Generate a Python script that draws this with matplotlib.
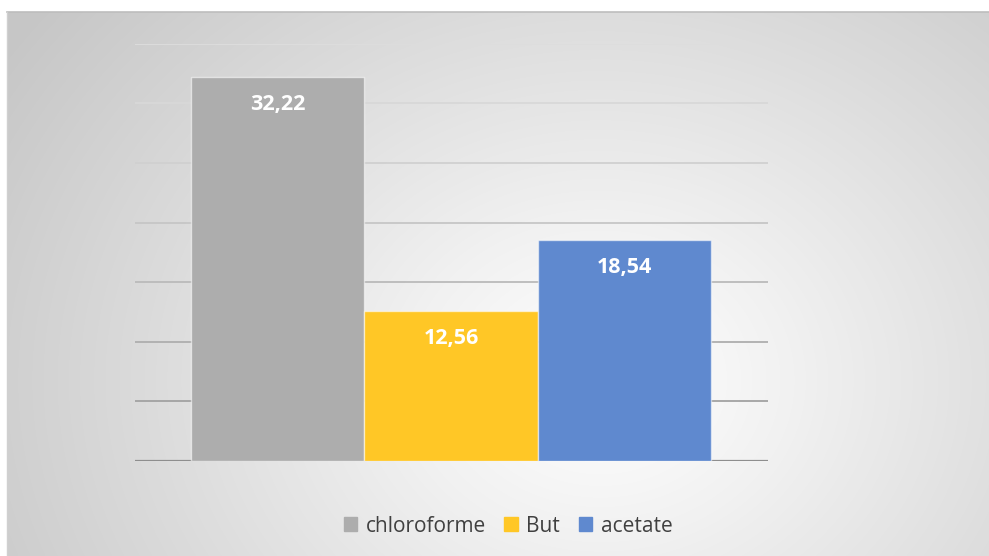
import numpy as np
import matplotlib.pyplot as plt
from matplotlib.colors import LinearSegmentedColormap

series = ["chloroforme", "But", "acetate"]
values = [32.22, 12.56, 18.54]
labels = ["32,22", "12,56", "18,54"]
colors = ["#ADADAD", "#FFC726", "#5F89CF"]
grid_levels = [0, 5, 10, 15, 20, 25, 30, 35]

plt.rcParams['font.family'] = ['Open Sans', 'DejaVu Sans']

fig = plt.figure(figsize=(9.89, 5.56), dpi=100)
fig.patch.set_facecolor("white")

# radial gradient background of the chart area
bg = fig.add_axes([7 / 989, 0, 982 / 989, 544 / 556], zorder=0)
h, w = 544, 982
yy, xx = np.mgrid[0:h, 0:w]
cx, cy = 600 - 7, 380 - 12
d = np.sqrt(((xx - cx) / 720.0) ** 2 + ((yy - cy) / 600.0) ** 2)
d = np.clip(d, 0, 1)
bg_cmap = LinearSegmentedColormap.from_list(
    "bg", [(0, "#FFFFFF"), (0.25, "#F2F2F2"), (0.6, "#DDDDDD"), (1, "#C6C6C6")])
bg.imshow(d, cmap=bg_cmap, vmin=0, vmax=1, aspect="auto", interpolation="bilinear")
bg.set_axis_off()
# thin border on top / left
fig.add_artist(plt.Line2D([7 / 989, 1], [544 / 556, 544 / 556], color="#BDBDBD", lw=1.2))
fig.add_artist(plt.Line2D([7 / 989, 7 / 989], [0, 544 / 556], color="#D0D0D0", lw=1.0))

ax = fig.add_axes([135 / 989, 1 - 461 / 556, 633 / 989, (461 - 43.7) / 556], zorder=1)
ax.patch.set_alpha(0)

# gridlines get darker toward the bottom
grid_cols = ["#8E8E8E", "#A2A2A2", "#AEAEAE", "#BABABA", "#C6C6C6", "#D0D0D0", "#D8D8D8", "#DDDDDD"]
for lvl, gc in zip(grid_levels, grid_cols):
    ax.axhline(lvl, color=gc, lw=1.6 if lvl == 0 else 1.3, zorder=1)

x = np.arange(len(series))
bars = ax.bar(x, values, width=1.0, color=colors, edgecolor=(1, 1, 1, 0.55),
              linewidth=1.0, label=series, zorder=2)

for xi, v, lab in zip(x, values, labels):
    ax.text(xi, v - 2.3, lab, ha="center", va="center", color="white",
            fontsize=15.5, fontweight="bold", zorder=3)

ax.set_xlim(-0.5 - 56 / 173, 2.5 + 57 / 173)
ax.set_ylim(0, 35)
ax.set_axis_off()

handles = [plt.Rectangle((0, 0), 1, 1, color=c) for c in colors]
fig.legend(handles, series, loc="center", bbox_to_anchor=(508 / 989, 1 - 526 / 556),
           ncol=3, frameon=False, fontsize=15, labelcolor="#404040",
           handlelength=0.65, handleheight=0.65, handletextpad=0.4, columnspacing=0.9)

fig.savefig("out.png", dpi=100)
